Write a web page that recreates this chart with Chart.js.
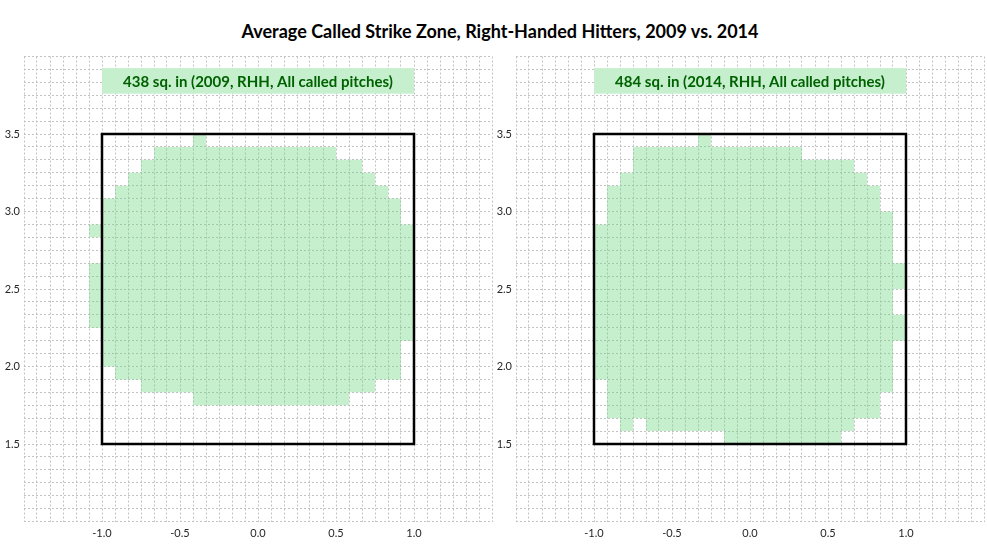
<!DOCTYPE html>
<html>
<head>
<meta charset="utf-8">
<script src="https://cdn.jsdelivr.net/npm/chart.js@4.4.1/dist/chart.umd.min.js"></script>
<style>
  body { margin: 0; background: #fff; }
  #wrap { position: relative; width: 987px; height: 554px; overflow: hidden; }
  #title { position: absolute; left: 0; top: 20px; width: 1000px; line-height: 20px; text-align: center;
           font: bold 18px Lato, sans-serif; color: #000; }
  .panel { position: absolute; top: 0; height: 554px; }
</style>
</head>
<body>
<div id="wrap">
  <div id="title">Average Called Strike Zone, Right-Handed Hitters, 2009 vs. 2014</div>
  <div class="panel" style="left:0;width:493px"><canvas id="chart2009"></canvas></div>
  <div class="panel" style="left:492px;width:495px"><canvas id="chart2014"></canvas></div>
</div>
<script>
// called-strike cells are 1 inch squares; each row: bottom height, left edge, right edge (inches)
const rows2009  = [41, 40, 39, 38, 37, 36, 35, 34, 33, 32, 31, 30, 29, 28, 27, 26, 25, 24, 23, 22, 21];
const left2009  = [-5, -8, -9, -10, -11, -12, -12, -13, -12, -12, -13, -13, -13, -13, -13, -12, -12, -12, -11, -9, -5];
const right2009 = [-4, 6, 8, 9, 10, 11, 11, 12, 12, 12, 12, 12, 12, 12, 12, 12, 11, 11, 11, 9, 7];

const rows2014  = [41, 40, 39, 38, 37, 36, 35, 34, 33, 32, 31, 30, 29, 28, 27, 26, 25, 24, 23, 22, 21, 20, 19, 18];
const left2014  = [-4, -9, -9, -10, -11, -11, -11, -12, -12, -12, -12, -12, -12, -12, -12, -12, -12, -12, -12, -11, -11, -11, -8, -2];
const right2014 = [-3, 4, 8, 9, 10, 10, 11, 11, 11, 11, 12, 12, 11, 11, 12, 12, 11, 11, 11, 11, 10, 10, 8, 7];
// detached cell near the bottom left of the 2014 zone
const islandRows2014  = [19];
const islandLeft2014  = [-10];
const islandRight2014 = [-9];

// rulebook zone (feet)
const zoneX = [-1, 1, 1, -1, -1];
const zoneY = [1.5, 1.5, 3.5, 3.5, 1.5];

const xTickLabels = [-1.0, -0.5, 0.0, 0.5, 1.0];
const yTickLabels = [1.5, 2.0, 2.5, 3.0, 3.5];

const label2009 = '438 sq. in (2009, RHH, All called pitches)';
const label2014 = '484 sq. in (2014, RHH, All called pitches)';

const FONT = 'Lato, sans-serif';
const CELL_FILL = 'rgba(92, 209, 115, 0.35)';

function cellBars(rows, left, right) {
    return rows.map((r, i) => ({ y: (r + 0.5) / 12, x: [left[i] / 12, right[i] / 12] }));
}

function inchTicks(min, max) {
    return function (scale) {
        const ticks = [];
        const n = Math.round((max - min) * 12);
        for (let i = 0; i <= n; i++) ticks.push({ value: min + i / 12 });
        scale.ticks = ticks;
    };
}

function onlyLabels(values) {
    return function (value) {
        return values.some(v => Math.abs(v - value) < 1e-6) ? Number(value).toFixed(1) : '';
    };
}

const labelBoxPlugin = {
    id: 'labelBox',
    afterDatasetsDraw(chart, args, opts) {
        const { ctx, scales: { x, y } } = chart;
        const x0 = x.getPixelForValue(-1), x1 = x.getPixelForValue(1);
        const y0 = y.getPixelForValue(3.925), y1 = y.getPixelForValue(3.76);
        ctx.save();
        ctx.fillStyle = '#c6efce';
        ctx.fillRect(x0, y0, x1 - x0, y1 - y0);
        ctx.fillStyle = '#006100';
        ctx.font = 'bold 15px ' + FONT;
        ctx.textAlign = 'center';
        ctx.textBaseline = 'middle';
        ctx.fillText(opts.text, (x0 + x1) / 2, (y0 + y1) / 2 + 1);
        ctx.restore();
    }
};

function makeChart(id, rows, left, right, extra, text, padRight) {
    const datasets = [{
        type: 'scatter',
        indexAxis: 'x',
        data: zoneX.map((v, i) => ({ x: v, y: zoneY[i] })),
        showLine: true,
        borderColor: '#000',
        borderWidth: 2.5,
        borderCapStyle: 'square',
        borderJoinStyle: 'miter',
        pointRadius: 0,
        fill: false,
        order: 0
    }, {
        type: 'bar',
        data: cellBars(rows, left, right),
        backgroundColor: CELL_FILL,
        borderWidth: 0,
        inflateAmount: 0,
        grouped: false,
        barPercentage: 1,
        categoryPercentage: 1,
        order: 1
    }];
    if (extra) {
        datasets.push({
            type: 'bar',
            data: cellBars(extra[0], extra[1], extra[2]),
            backgroundColor: CELL_FILL,
            borderWidth: 0,
            inflateAmount: 0,
            grouped: false,
            barPercentage: 1,
            categoryPercentage: 1,
            order: 1
        });
    }

    new Chart(document.getElementById(id), {
        type: 'bar',
        data: { datasets: datasets },
        options: {
            indexAxis: 'y',
            responsive: true,
            maintainAspectRatio: false,
            animation: false,
            layout: { padding: { top: 56.5, right: padRight, bottom: 0, left: 0 } },
            plugins: {
                legend: { display: false },
                tooltip: { enabled: false },
                labelBox: { text: text }
            },
            scales: {
                x: {
                    type: 'linear',
                    min: -1.5, max: 1.5,
                    offset: false,
                    afterBuildTicks: inchTicks(-1.5, 1.5),
                    afterFit: s => { s.height = 32.5; s.paddingLeft = 0; s.paddingRight = 0; },
                    grid: { color: '#c3c3c3', lineWidth: 1, drawTicks: false, offset: false },
                    border: { display: false, dash: [2, 2] },
                    ticks: {
                        autoSkip: false, maxRotation: 0, padding: 5,
                        color: '#262626', font: { family: FONT, size: 11 },
                        callback: onlyLabels(xTickLabels)
                    }
                },
                y: {
                    type: 'linear',
                    min: 1.0, max: 4.0,
                    offset: false,
                    afterBuildTicks: inchTicks(1.0, 4.0),
                    afterFit: s => { s.width = 24; s.paddingTop = 0; s.paddingBottom = 0; },
                    grid: { color: '#c3c3c3', lineWidth: 1, drawTicks: false, offset: false },
                    border: { display: false, dash: [2, 2] },
                    ticks: {
                        autoSkip: false, padding: 4,
                        color: '#262626', font: { family: FONT, size: 11 },
                        callback: onlyLabels(yTickLabels)
                    }
                }
            }
        },
        plugins: [labelBoxPlugin]
    });
}

makeChart('chart2009', rows2009, left2009, right2009, null, label2009, 1);
makeChart('chart2014', rows2014, left2014, right2014,
    [islandRows2014, islandLeft2014, islandRight2014], label2014, 3);
</script>
</body>
</html>
